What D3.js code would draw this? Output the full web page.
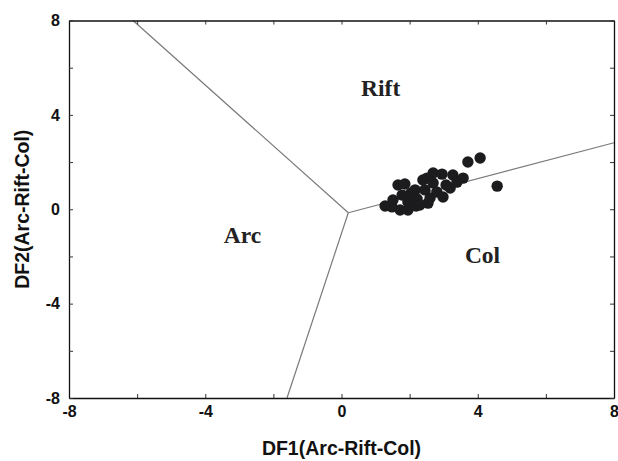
<!DOCTYPE html>
<html>
<head>
<meta charset="utf-8">
<script src="https://cdn.jsdelivr.net/npm/d3@7"></script>
<style>
  body { margin: 0; background: #fff; }
  svg { display: block; }
</style>
</head>
<body>
<div id="chart"></div>
<script>
const width = 618;
const height = 461;
const margin = { top: 20.5, right: 4, bottom: 63, left: 69 };

// sample scores
const df1 = [1.28, 1.48, 1.51, 1.66, 1.86, 1.72, 1.95, 1.78, 2.04, 1.95, 2.19, 2.22, 2.16, 2.39,
  2.45, 2.54, 2.60, 2.69, 2.69, 2.80, 2.95, 2.98, 3.07, 3.19, 3.27, 3.39, 3.57, 3.71, 4.07,
  4.57, 2.51, 2.30];
const df2 = [0.14, 0.10, 0.39, 1.03, 1.07, -0.03, -0.03, 0.60, 0.69, 0.31, 0.14, 0.43, 0.82, 1.24,
  0.82, 0.26, 0.48, 1.54, 1.11, 0.73, 1.49, 0.52, 1.03, 0.90, 1.45, 1.15, 1.32, 2.00, 2.17,
  0.98, 1.32, 0.18];

// field boundaries: junction point and the three ends
const junction = [0.2, -0.15];
const boundaryEnds = [[-6.12, 8], [-1.6, -8], [8, 2.82]];

const fieldNames = ["Rift", "Arc", "Col"];
const fieldPos = [[1.15, 4.8], [-2.91, -1.42], [4.14, -2.26]];

const majorTicks = [-8, -4, 0, 4, 8];
const allTicks = [-8, -6, -4, -2, 0, 2, 4, 6, 8];

const svg = d3.select("#chart").append("svg")
  .attr("width", width)
  .attr("height", height);

const x = d3.scaleLinear().domain([-8, 8]).range([margin.left, width - margin.right]);
const y = d3.scaleLinear().domain([-8, 8]).range([height - margin.bottom, margin.top]);

// boundary lines
const line = d3.line().x(d => x(d[0])).y(d => y(d[1]));
boundaryEnds.forEach(end => {
  svg.append("path")
    .attr("d", line([junction, end]))
    .attr("fill", "none")
    .attr("stroke", "#7a7a7a")
    .attr("stroke-width", 1.2);
});

// points
svg.append("g")
  .selectAll("circle")
  .data(df1.map((v, i) => [v, df2[i]]))
  .join("circle")
  .attr("cx", d => x(d[0]))
  .attr("cy", d => y(d[1]))
  .attr("r", 5.7)
  .attr("fill", "#1c1c1e");

// field labels
svg.append("g")
  .selectAll("text")
  .data(fieldNames)
  .join("text")
  .attr("x", (d, i) => x(fieldPos[i][0]))
  .attr("y", (d, i) => y(fieldPos[i][1]))
  .attr("text-anchor", "middle")
  .attr("font-family", "'Liberation Serif', 'Times New Roman', serif")
  .attr("font-weight", "bold")
  .attr("font-size", 23.5)
  .attr("fill", "#222")
  .text(d => d);

// axes with inward ticks on all sides
const tickLen = 4;
const styleAxis = g => {
  g.select(".domain").attr("stroke", "#111").attr("stroke-width", 1.3);
  g.selectAll(".tick line").attr("stroke", "#333");
  g.selectAll("text")
    .attr("font-family", "'Liberation Sans', Arial, sans-serif")
    .attr("font-weight", "bold")
    .attr("font-size", 16)
    .attr("fill", "#111");
};
const fmt = d => majorTicks.includes(d) ? String(d) : "";

svg.append("g")
  .attr("transform", `translate(0,${height - margin.bottom})`)
  .call(d3.axisBottom(x).tickValues(allTicks).tickFormat(fmt).tickSizeInner(-tickLen).tickSizeOuter(0).tickPadding(8))
  .call(styleAxis);

svg.append("g")
  .attr("transform", `translate(0,${margin.top})`)
  .call(d3.axisTop(x).tickValues(allTicks).tickFormat("").tickSizeInner(-tickLen).tickSizeOuter(0))
  .call(styleAxis);

svg.append("g")
  .attr("transform", `translate(${margin.left},0)`)
  .call(d3.axisLeft(y).tickValues(allTicks).tickFormat(fmt).tickSizeInner(-tickLen).tickSizeOuter(0).tickPadding(9))
  .call(styleAxis);

svg.append("g")
  .attr("transform", `translate(${width - margin.right},0)`)
  .call(d3.axisRight(y).tickValues(allTicks).tickFormat("").tickSizeInner(-tickLen).tickSizeOuter(0))
  .call(styleAxis);

// axis titles
svg.append("text")
  .attr("x", x(0))
  .attr("y", 455)
  .attr("text-anchor", "middle")
  .attr("font-family", "'Liberation Sans', Arial, sans-serif")
  .attr("font-weight", "bold")
  .attr("font-size", 19.5)
  .attr("fill", "#111")
  .text("DF1(Arc-Rift-Col)");

svg.append("text")
  .attr("transform", `translate(29,${y(0)}) rotate(-90)`)
  .attr("text-anchor", "middle")
  .attr("font-family", "'Liberation Sans', Arial, sans-serif")
  .attr("font-weight", "bold")
  .attr("font-size", 19.5)
  .attr("fill", "#111")
  .text("DF2(Arc-Rift-Col)");
</script>
</body>
</html>
